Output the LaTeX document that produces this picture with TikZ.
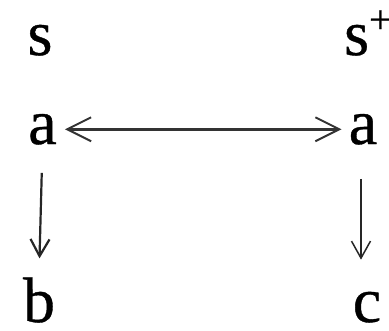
\documentclass[tikz,border=0pt]{standalone}
\usepackage{fontspec}
\setmainfont{Liberation Serif}
\newfontfamily\lblfont[FakeBold=0.6]{Liberation Serif}
\usepackage{tikz}
\usetikzlibrary{arrows.meta}

\begin{document}
\begin{tikzpicture}[x=1pt,y=-1pt,
  lbl/.style={inner sep=0pt,anchor=base,font=\lblfont\fontsize{64}{70}\selectfont},
  harr/.style={{Straight Barb[length=24pt,width=24pt,line width=2pt]}-{Straight Barb[length=24pt,width=24pt,line width=2pt]},line width=2.6pt,black!80},
  varr/.style={-{Straight Barb[length=17pt,width=19pt]},black!85}]
\useasboundingbox (0,0) rectangle (389,330);
  \node[lbl] (s) at (40,55) {s};
  \node[lbl,anchor=base west] (sp) at (344,55) {s\raisebox{22pt}{\fontsize{40}{40}\selectfont +}};
  \node[lbl] (la) at (42.5,144) {a};
  \node[lbl] (ra) at (363,144) {a};
  \node[lbl] (b) at (39,322) {b};
  \node[lbl] (c) at (367,322) {c};
  % arrows
  \draw[harr] ([xshift=8pt]la.east) -- ([xshift=-7pt]ra.west);
  \draw[varr,line width=2.2pt,shorten <=28pt,shorten >=19pt] (la.south) -- (b.north);
  \draw[varr,line width=1.5pt,shorten <=34pt,shorten >=32pt] ([xshift=-2pt]ra.south) -- ([xshift=-2pt]ra.south |- c.north);
\end{tikzpicture}
\end{document}
